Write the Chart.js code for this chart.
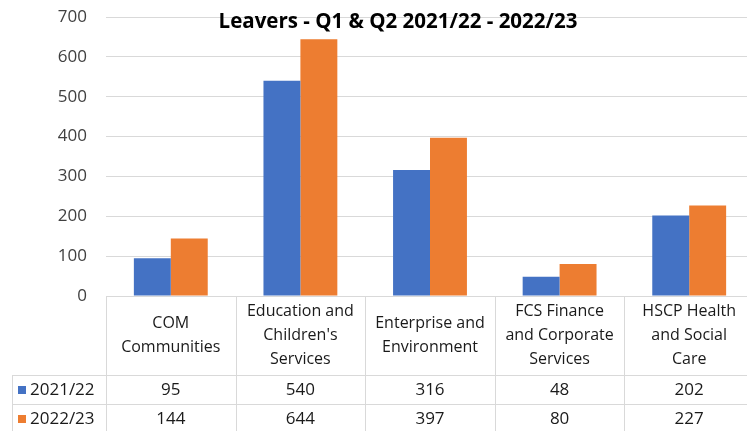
<!DOCTYPE html>
<html>
<head>
<meta charset="utf-8">
<script src="https://cdn.jsdelivr.net/npm/chart.js@4"></script>
<style>
  html, body { margin: 0; padding: 0; background: #fff; overflow: hidden; }
  #wrap { width: 760px; height: 431px; }
</style>
</head>
<body>
<div id="wrap"><canvas id="leaversChart" width="760" height="431"></canvas></div>
<script>
// leavers chart - bars + data table underneath
const categories = [
  ['COM', 'Communities'],
  ['Education and', "Children's", 'Services'],
  ['Enterprise and', 'Environment'],
  ['FCS Finance', 'and Corporate', 'Services'],
  ['HSCP Health', 'and Social', 'Care']
];
const seriesNames = ['2021/22', '2022/23'];
const leavers2122 = [95, 540, 316, 48, 202];
const leavers2223 = [144, 644, 397, 80, 227];
const yTicks = [0, 100, 200, 300, 400, 500, 600, 700];

const BLUE = '#4472C4', ORANGE = '#ED7D31', GRID = '#d9d9d9';
const FONT = 'Open Sans';

// draws the title over the plot and the data table below it
const tablePlugin = {
  id: 'dataTable',
  afterDraw(chart) {
    const ctx = chart.ctx;
    const area = chart.chartArea;
    const x = chart.scales.x;
    const colW = (area.right - area.left) / categories.length;
    const top = area.bottom, row1 = top + 79, row2 = row1 + 29, row3 = row2 + 29;
    const keyLeft = 12;

    ctx.save();
    // title
    ctx.fillStyle = '#000';
    ctx.font = 'bold 20.5px "' + FONT + '"';
    ctx.textAlign = 'center';
    ctx.textBaseline = 'middle';
    ctx.fillText('Leavers - Q1 & Q2 2021/22 - 2022/23', 398, 22);

    // grid lines of the table
    ctx.strokeStyle = GRID;
    ctx.lineWidth = 1;
    ctx.beginPath();
    [row1, row2, row3].forEach(y => {
      ctx.moveTo(keyLeft, y + 0.5); ctx.lineTo(area.right, y + 0.5);
    });
    ctx.moveTo(keyLeft + 0.5, row1); ctx.lineTo(keyLeft + 0.5, row3);
    for (let i = 0; i <= categories.length; i++) {
      const bx = Math.round(area.left + i * colW) + 0.5;
      ctx.moveTo(bx, top); ctx.lineTo(bx, row3);
    }
    ctx.stroke();

    // header labels
    ctx.fillStyle = '#1a1a1a';
    ctx.font = '16px "' + FONT + '"';
    const lh = 24;
    categories.forEach((lines, i) => {
      const cx = x.getPixelForValue(i);
      const cy = (top + row1) / 2;
      lines.forEach((ln, j) => {
        ctx.fillText(ln, cx, cy + (j - (lines.length - 1) / 2) * lh);
      });
    });

    // value rows
    ctx.font = '17px "' + FONT + '"';
    const rows = [leavers2122, leavers2223];
    const colors = [BLUE, ORANGE];
    const rowTops = [row1, row2];
    rows.forEach((vals, r) => {
      const cy = rowTops[r] + 15;
      vals.forEach((v, i) => {
        ctx.fillStyle = '#1a1a1a';
        ctx.textAlign = 'center';
        ctx.fillText(String(v), x.getPixelForValue(i), cy);
      });
      ctx.fillStyle = colors[r];
      ctx.fillRect(18, cy - 4, 8, 8);
      ctx.fillStyle = '#1a1a1a';
      ctx.textAlign = 'left';
      ctx.fillText(seriesNames[r], 30, cy);
    });
    ctx.restore();
  }
};

new Chart(document.getElementById('leaversChart'), {
  type: 'bar',
  data: {
    labels: categories,
    datasets: [
      { label: seriesNames[0], data: leavers2122, backgroundColor: BLUE, categoryPercentage: 0.57, barPercentage: 1.0 },
      { label: seriesNames[1], data: leavers2223, backgroundColor: ORANGE, categoryPercentage: 0.57, barPercentage: 1.0 }
    ]
  },
  options: {
    responsive: false,
    animation: false,
    layout: { padding: { top: 17, right: 6, bottom: 135, left: 0 } },
    plugins: {
      legend: { display: false },
      title: { display: false },
      tooltip: { enabled: false }
    },
    scales: {
      x: {
        grid: { display: false },
        border: { display: false },
        ticks: { display: false },
        afterFit(scale) { scale.height = 0; }
      },
      y: {
        min: 0, max: 700,
        afterBuildTicks(scale) { scale.ticks = yTicks.map(v => ({ value: v })); },
        afterFit(scale) {
          scale.width = 106;
          scale.paddingTop = 0;
          scale.paddingBottom = 0;
        },
        grid: { color: GRID, drawTicks: false },
        border: { display: false },
        ticks: { padding: 19, color: '#404040', font: { family: FONT, size: 17 } }
      }
    }
  },
  plugins: [tablePlugin]
});
</script>
</body>
</html>
